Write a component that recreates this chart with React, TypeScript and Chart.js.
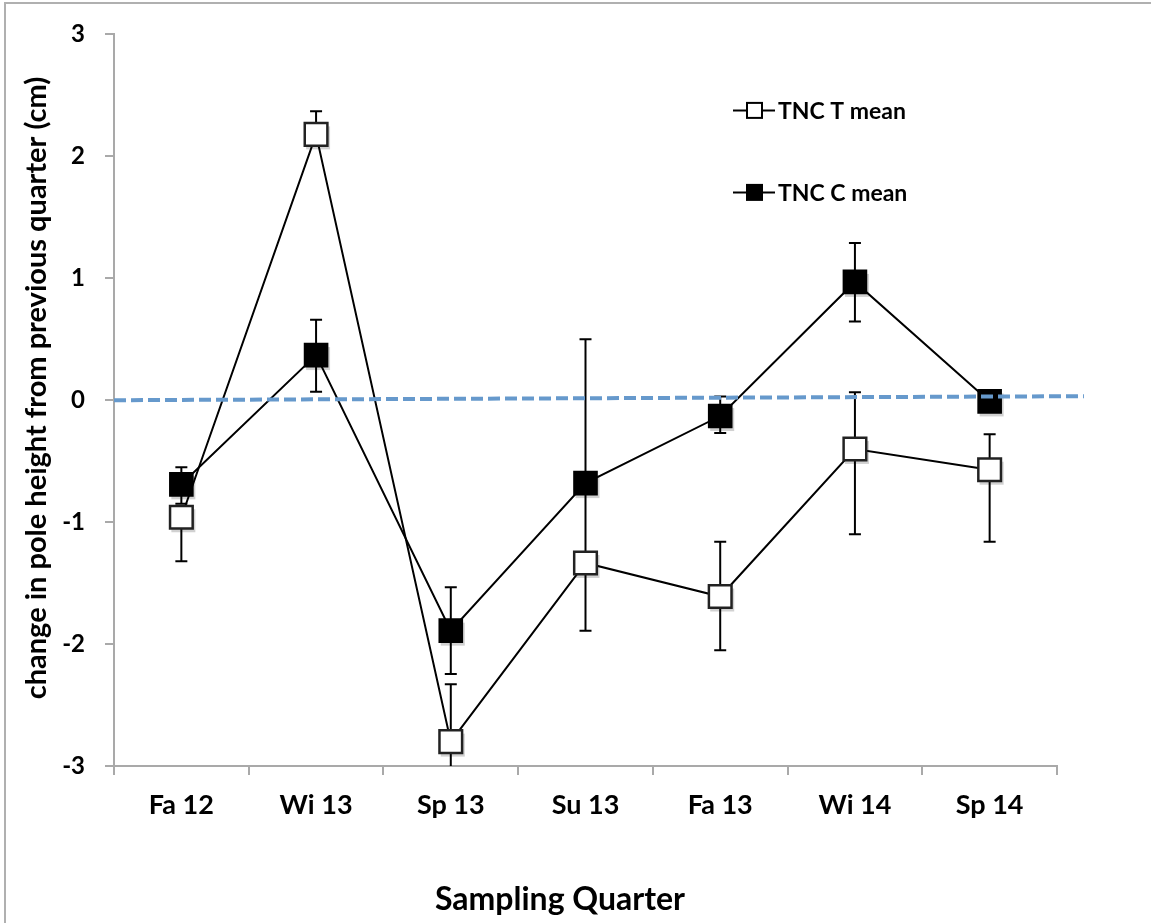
import { useEffect, useRef } from 'react';
import { Chart, registerables } from 'chart.js';

Chart.register(...registerables);

const categories = ['Fa 12', 'Wi 13', 'Sp 13', 'Su 13', 'Fa 13', 'Wi 14', 'Sp 14'];
const tMean = [-0.96, 2.18, -2.8, -1.335, -1.61, -0.4, -0.57];
const tErrUp = [0.08, 0.19, 0.47, 0.08, 0.45, 0.465, 0.29];
const tErrDown = [0.36, 0.08, 0.47, 0.08, 0.44, 0.7, 0.59];
const cMean = [-0.69, 0.37, -1.89, -0.68, -0.13, 0.97, -0.01];
const cErrUp = [0.14, 0.29, 0.355, 1.18, 0.16, 0.32, 0.06];
const cErrDown = [0.16, 0.3, 0.355, 1.21, 0.14, 0.325, 0.06];
const zeroLineX = [-0.5, 6.7];
const zeroLineY = [0.0, 0.033];
const yTicks = [-3, -2, -1, 0, 1, 2, 3];
const seriesNames = ['TNC T mean', 'TNC C mean'];
const xTitle = 'Sampling Quarter';
const yTitle = 'change in pole height from previous quarter (cm)';

const FONT = 'Lato, "Open Sans", sans-serif';
const AXIS_GRAY = '#a9a9a9';

const errorBarPlugin = {
  id: 'errorBars',
  beforeDatasetsDraw(chart: any) {
    const { ctx, chartArea, scales } = chart;
    ctx.save();
    ctx.beginPath();
    ctx.rect(chartArea.left, chartArea.top, chartArea.right - chartArea.left, chartArea.bottom - chartArea.top);
    ctx.clip();
    ctx.strokeStyle = '#000';
    ctx.lineWidth = 2;
    chart.data.datasets.forEach((ds: any, i: number) => {
      if (!ds.errUp) return;
      const meta = chart.getDatasetMeta(i);
      meta.data.forEach((pt: any, j: number) => {
        const v = ds.data[j];
        const x = pt.x;
        const yTop = scales.y.getPixelForValue(v + ds.errUp[j]);
        const yBot = scales.y.getPixelForValue(v - ds.errDown[j]);
        ctx.beginPath();
        ctx.moveTo(x, yTop);
        ctx.lineTo(x, yBot);
        ctx.moveTo(x - 6, yTop);
        ctx.lineTo(x + 6, yTop);
        ctx.moveTo(x - 6, yBot);
        ctx.lineTo(x + 6, yBot);
        ctx.stroke();
      });
    });
    ctx.restore();
  },
};

const markerShadowPlugin = {
  id: 'markerShadow',
  beforeDatasetDraw(chart: any, args: any) {
    const ds = chart.data.datasets[args.index];
    if (!ds.errUp) return;
    const { ctx } = chart;
    ctx.save();
    ctx.fillStyle = 'rgba(0,0,0,0.18)';
    args.meta.data.forEach((pt: any) => {
      ctx.fillRect(pt.x - 10, pt.y - 8, 24, 23);
    });
    ctx.restore();
  },
};

const legendPlugin = {
  id: 'customLegend',
  afterDraw(chart: any) {
    const { ctx, chartArea } = chart;
    ctx.save();
    const x0 = chartArea.left + 619;
    const rows = [chartArea.top + 76, chartArea.top + 158];
    [1, 2].forEach((dsIndex, k) => {
      const ds = chart.data.datasets[dsIndex];
      const y = rows[k];
      ctx.strokeStyle = '#000';
      ctx.lineWidth = 2;
      ctx.beginPath();
      ctx.moveTo(x0, y);
      ctx.lineTo(x0 + 42, y);
      ctx.stroke();
      ctx.fillStyle = ds.pointBackgroundColor;
      ctx.fillRect(x0 + 14, y - 7.5, 15, 15);
      ctx.strokeStyle = '#000';
      ctx.lineWidth = 2;
      ctx.strokeRect(x0 + 14, y - 7.5, 15, 15);
      ctx.fillStyle = '#000';
      ctx.font = `bold 23px ${FONT}`;
      ctx.textAlign = 'left';
      ctx.textBaseline = 'middle';
      ctx.fillText(ds.label, x0 + 45, y + 1);
    });
    ctx.restore();
  },
};

const titlesPlugin = {
  id: 'axisTitles',
  afterDraw(chart: any) {
    const { ctx } = chart;
    ctx.save();
    ctx.fillStyle = '#000';
    ctx.font = `bold 32px ${FONT}`;
    ctx.textAlign = 'center';
    ctx.textBaseline = 'alphabetic';
    ctx.fillText(xTitle, 560, 910);
    ctx.translate(46, 388);
    ctx.rotate(-Math.PI / 2);
    ctx.font = `bold 29px ${FONT}`;
    ctx.fillText(yTitle, 0, 0);
    ctx.restore();
  },
};

export default function App() {
  const ref = useRef<HTMLCanvasElement | null>(null);

  useEffect(() => {
    if (!ref.current) return;
    const chart = new Chart(ref.current, {
      type: 'line',
      data: {
        labels: categories,
        datasets: [
          {
            label: 'zero',
            data: zeroLineX.map((x, i) => ({ x, y: zeroLineY[i] })),
            xAxisID: 'x2',
            borderColor: '#6699cc',
            borderWidth: 4,
            borderDash: [12, 5],
            pointRadius: 0,
            fill: false,
            clip: false,
            order: -1,
          } as any,
          {
            label: seriesNames[0],
            data: tMean,
            errUp: tErrUp,
            errDown: tErrDown,
            borderColor: '#000',
            borderWidth: 2,
            pointStyle: 'rect',
            pointRadius: 16,
            pointBackgroundColor: '#ffffff',
            pointBorderColor: '#222',
            pointBorderWidth: 2.5,
            tension: 0,
            fill: false,
          } as any,
          {
            label: seriesNames[1],
            data: cMean,
            errUp: cErrUp,
            errDown: cErrDown,
            borderColor: '#000',
            borderWidth: 2,
            pointStyle: 'rect',
            pointRadius: 16,
            pointBackgroundColor: '#000000',
            pointBorderColor: '#000',
            pointBorderWidth: 2,
            tension: 0,
            fill: false,
          } as any,
        ],
      },
      options: {
        responsive: false,
        animation: false,
        layout: { padding: { left: 0, top: 32, right: 94, bottom: 0 } },
        plugins: {
          legend: { display: false },
          tooltip: { enabled: false },
        },
        scales: {
          x: {
            type: 'category',
            offset: true,
            grid: {
              display: true,
              offset: true,
              drawOnChartArea: false,
              drawTicks: true,
              tickLength: 9,
              color: AXIS_GRAY,
              lineWidth: 2,
            },
            border: { display: true, color: AXIS_GRAY, width: 2 },
            ticks: {
              color: '#000',
              font: { family: FONT, size: 27, weight: 'bold' },
              padding: 14,
              maxRotation: 0,
            },
            afterFit(scale: any) {
              scale.height = 157;
            },
          },
          x2: {
            type: 'linear',
            display: false,
            min: -0.5,
            max: categories.length - 0.5,
          },
          y: {
            min: yTicks[0],
            max: yTicks[yTicks.length - 1],
            ticks: {
              stepSize: 1,
              color: '#000',
              font: { family: FONT, size: 24, weight: 'bold' },
              padding: 20,
            },
            grid: {
              display: true,
              drawOnChartArea: false,
              drawTicks: true,
              tickLength: 9,
              color: AXIS_GRAY,
              lineWidth: 2,
            },
            border: { display: true, color: AXIS_GRAY, width: 2 },
            afterFit(scale: any) {
              scale.width = 114;
            },
          },
        },
      } as any,
      plugins: [errorBarPlugin, markerShadowPlugin, legendPlugin, titlesPlugin],
    });
    return () => chart.destroy();
  }, []);

  return (
    <div style={{ position: 'fixed', left: 0, top: 0, width: 1151, height: 923, overflow: 'hidden', background: '#fff' }}>
      <div
        style={{
          position: 'absolute',
          left: 4,
          top: 2,
          width: 1300,
          height: 1100,
          borderLeft: '2px solid #b0b0b0',
          borderTop: '2px solid #b0b0b0',
        }}
      />
      <canvas ref={ref} width={1151} height={923} style={{ position: 'absolute', left: 0, top: 0 }} />
    </div>
  );
}
